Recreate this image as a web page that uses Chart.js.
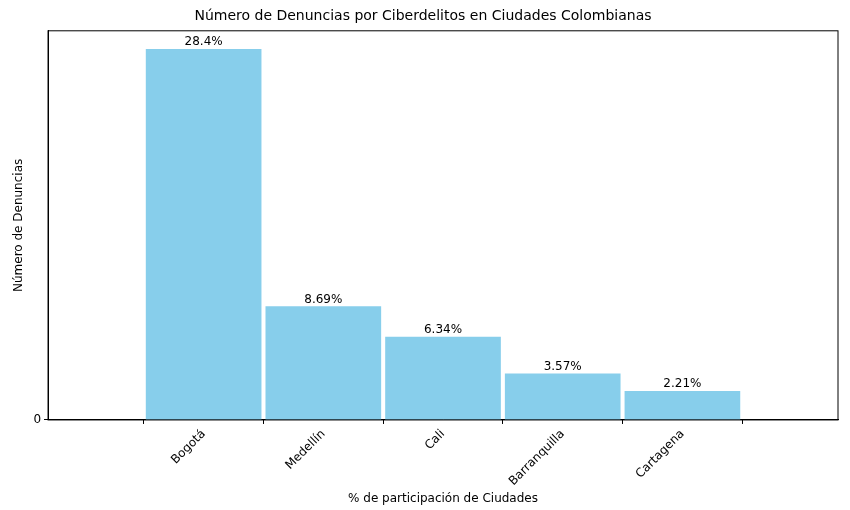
<!DOCTYPE html>
<html>
<head>
<meta charset="utf-8">
<script src="https://cdn.jsdelivr.net/npm/chart.js@4"></script>
<style>
  body { margin: 0; background: #fff; }
  #wrap { width: 850px; height: 510px; }
</style>
</head>
<body>
<div id="wrap"><canvas id="chart"></canvas></div>
<script>
const cities = ["Bogotá", "Medellín", "Cali", "Barranquilla", "Cartagena"];
const complaints = [15400, 4710, 3440, 1920, 1190];
const shares = ["28.4%", "8.69%", "6.34%", "3.57%", "2.21%"];

const barLabels = {
  id: "barLabels",
  afterDatasetsDraw(chart) {
    const ctx = chart.ctx;
    ctx.save();
    ctx.font = "12px 'DejaVu Sans'";
    ctx.fillStyle = "#000";
    ctx.textAlign = "center";
    ctx.textBaseline = "bottom";
    chart.getDatasetMeta(0).data.forEach((bar, i) => {
      ctx.fillText(shares[i], bar.x, bar.y - 1);
    });
    ctx.restore();
  },
};

const frame = {
  id: "frame",
  afterDraw(chart) {
    const a = chart.chartArea, ctx = chart.ctx;
    ctx.save();
    ctx.strokeStyle = "#000";
    ctx.lineWidth = 1;
    ctx.strokeRect(a.left, a.top, a.right - a.left, a.bottom - a.top);
    ctx.restore();
  },
};

const tickGrid = { drawOnChartArea: false, drawTicks: true, tickLength: 4, color: "#000" };

new Chart(document.getElementById("chart"), {
  type: "bar",
  data: {
    datasets: [{
      data: complaints.map((v, i) => ({ x: i, y: v })),
      backgroundColor: "#87ceeb",
      barThickness: 115,
    }],
  },
  options: {
    responsive: true,
    maintainAspectRatio: false,
    animation: false,
    layout: { padding: { left: 8, right: 12, top: 4, bottom: 0 } },
    plugins: {
      legend: { display: false },
      tooltip: { enabled: false },
      title: {
        display: true,
        text: "Número de Denuncias por Ciberdelitos en Ciudades Colombianas",
        font: { family: "DejaVu Sans", size: 14, weight: "normal" },
        color: "#000",
        padding: { top: 4, bottom: 6 },
      },
    },
    scales: {
      x: {
        type: "linear",
        min: -0.64,
        max: 4.64,
        grid: tickGrid,
        border: { color: "#000" },
        afterBuildTicks(axis) {
          axis.ticks = cities.map((c, i) => ({ value: i }));
        },
        ticks: {
          color: "#000",
          font: { family: "DejaVu Sans", size: 12 },
          maxRotation: 45,
          minRotation: 45,
          callback: (v) => cities[v],
        },
        title: {
          display: true,
          text: "% de participación de Ciudades",
          color: "#000",
          font: { family: "DejaVu Sans", size: 12 },
          padding: { top: 0, bottom: 4 },
        },
      },
      y: {
        min: 0,
        max: 16170,
        grid: tickGrid,
        border: { color: "#000" },
        afterBuildTicks(axis) {
          axis.ticks = axis.ticks.filter((t) => t.value % 2000 === 0);
        },
        ticks: {
          stepSize: 2000,
          color: "#000",
          font: { family: "DejaVu Sans", size: 12 },
          callback: (v) => String(v),
        },
        title: {
          display: true,
          text: "Número de Denuncias",
          color: "#000",
          font: { family: "DejaVu Sans", size: 12 },
        },
      },
    },
  },
  plugins: [barLabels, frame],
});
</script>
</body>
</html>
